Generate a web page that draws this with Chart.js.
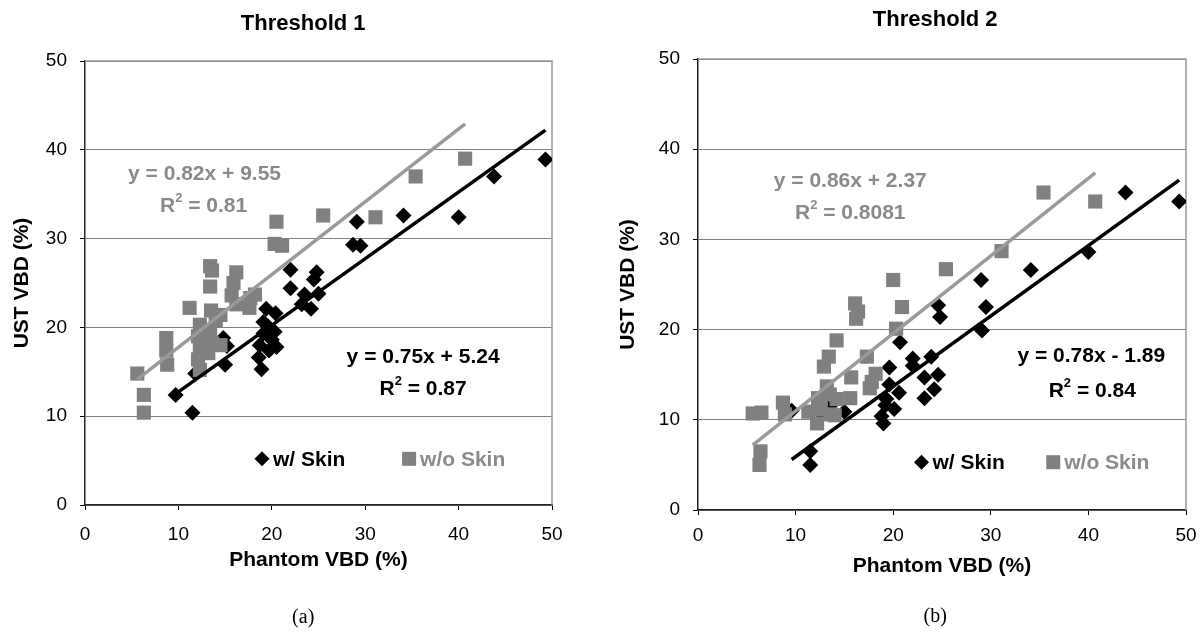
<!DOCTYPE html>
<html>
<head>
<meta charset="utf-8">
<script src="https://cdn.jsdelivr.net/npm/chart.js@4.4.1/dist/chart.umd.min.js"></script>
<style>
  html, body { margin: 0; padding: 0; background: #fff; overflow: hidden; }
  #wrap { position: relative; width: 1202px; height: 642px; overflow: hidden; }
  #boxA { position: absolute; left: 0; top: 0; }
  #boxB { position: absolute; left: 601px; top: 0; }
</style>
</head>
<body>
<div id="wrap">
  <div id="boxA"><canvas id="chartA" width="601" height="642"></canvas></div>
  <div id="boxB"><canvas id="chartB" width="658" height="642"></canvas></div>
</div>
<script>
// ---- data: [Phantom VBD, UST VBD] ----
const skinA = [
  [9.7, 12.4], [11.5, 10.4], [11.8, 14.8], [15.0, 15.8], [14.8, 18.8], [15.2, 17.9],
  [18.9, 15.3], [18.6, 16.6], [18.7, 18.0], [19.1, 19.3], [19.6, 20.1], [20.5, 17.8],
  [20.0, 18.6], [19.4, 22.1], [20.4, 21.6], [19.1, 20.6], [19.7, 17.4], [20.3, 19.5],
  [22.0, 26.5], [22.0, 24.4], [23.5, 23.7], [24.2, 22.1], [23.2, 22.6], [24.8, 26.2],
  [24.5, 25.4], [25.0, 23.8], [28.7, 29.3], [29.5, 29.2], [29.1, 31.9], [34.1, 32.6],
  [40.0, 32.4], [43.8, 37.0], [49.3, 38.9]
];
const noSkinA = [
  [5.6, 14.8], [6.3, 12.4], [6.3, 10.4], [8.7, 18.8], [8.7, 17.4], [8.8, 15.8],
  [11.2, 22.2], [12.3, 20.3], [12.1, 19.0], [12.3, 17.6], [12.1, 16.4], [12.3, 15.2],
  [13.2, 17.1], [13.4, 19.7], [13.6, 18.2], [14.0, 20.8], [14.5, 18.0], [13.4, 26.9],
  [13.6, 26.4], [13.4, 24.6], [13.5, 21.9], [14.5, 21.4], [16.2, 26.2], [15.9, 25.0],
  [15.7, 23.6], [16.2, 22.6], [17.7, 23.3], [17.6, 22.2], [18.2, 23.7], [20.3, 29.4],
  [21.1, 29.2], [20.5, 31.9], [25.5, 32.6], [31.1, 32.4], [35.4, 37.0], [40.7, 39.0]
];
const skinB = [
  [9.6, 11.0], [11.5, 5.0], [11.5, 6.5], [15.0, 10.9], [19.0, 9.6], [18.8, 10.4],
  [19.2, 11.6], [20.1, 11.2], [19.3, 12.3], [20.6, 13.0], [19.6, 13.9], [19.6, 15.8],
  [22.0, 16.8], [22.0, 16.0], [23.9, 17.0], [23.2, 12.4], [23.2, 14.7], [24.6, 15.0],
  [24.2, 13.4], [20.7, 18.6], [24.8, 21.4], [24.6, 22.7], [29.0, 25.5], [29.5, 22.5],
  [29.1, 19.9], [34.1, 26.6], [40.0, 28.6], [43.8, 35.2], [49.3, 34.2], [12.5, 10.8],
  [13.5, 11.5]
];
const noSkinB = [
  [5.6, 10.7], [6.5, 10.8], [6.4, 6.5], [6.3, 5.0], [8.7, 11.9], [8.9, 10.6],
  [11.3, 10.9], [12.3, 12.4], [12.2, 9.6], [12.6, 11.2], [13.2, 13.7], [13.5, 12.8],
  [13.6, 10.6], [14.2, 12.3], [14.0, 10.5], [12.9, 15.9], [13.4, 17.0], [14.2, 18.8],
  [15.6, 12.4], [15.7, 14.7], [16.1, 22.9], [16.4, 22.0], [16.2, 21.2], [17.3, 17.0],
  [17.6, 13.5], [17.8, 14.2], [18.2, 15.1], [20.0, 25.5], [20.9, 22.5], [20.3, 20.1],
  [25.4, 26.7], [31.1, 28.7], [35.4, 35.2], [40.7, 34.2]
];

// linear trendlines shown on the figure: [slope, intercept, R²]
const fitSkinA = [0.75, 5.24, '0.87'];
const fitNoSkinA = [0.82, 9.55, '0.81'];
const fitSkinB = [0.78, -1.89, '0.84'];
const fitNoSkinB = [0.86, 2.37, '0.8081'];

const seriesNames = ['w/ Skin', 'w/o Skin'];
const axisTicks = [0, 10, 20, 30, 40, 50];
const titles = ['Threshold 1', 'Threshold 2'];
const captions = ['(a)', '(b)'];

const FONT = "'Liberation Sans', Arial, sans-serif";
const BLACK = '#000000';
const GRAY = '#808080';
const GRAY_LINE = '#9a9a9a';
const GRAY_TEXT = '#8a8a8a';
const BIG = 21;

function pts(arr) { return arr.map(p => ({ x: p[0], y: p[1] })); }

function trend(arr, fit) {
  const xs = arr.map(p => p[0]);
  const lo = Math.min(...xs), hi = Math.max(...xs);
  return [{ x: lo, y: fit[0] * lo + fit[1] }, { x: hi, y: fit[0] * hi + fit[1] }];
}

function eqText(fit) {
  const sign = fit[1] < 0 ? ' - ' : ' + ';
  return 'y = ' + fit[0].toFixed(2) + 'x' + sign + Math.abs(fit[1]).toFixed(2);
}

// equations and R² drawn at data positions
const textMarks = {
  id: 'textMarks',
  afterDatasetsDraw(chart, args, opts) {
    const ctx = chart.ctx, xs = chart.scales.x, ys = chart.scales.y;
    ctx.save();
    ctx.textBaseline = 'middle';
    (opts.items || []).forEach(t => {
      const px = xs.getPixelForValue(t.x), py = ys.getPixelForValue(t.y);
      ctx.fillStyle = t.color;
      const big = 'bold ' + BIG + 'px ' + FONT, small = 'bold 13px ' + FONT;
      if (t.r2) {
        const rest = ' = ' + t.r2;
        ctx.font = big; const wR = ctx.measureText('R').width, wRest = ctx.measureText(rest).width;
        ctx.font = small; const w2 = ctx.measureText('2').width;
        const x0 = px - (wR + w2 + wRest) / 2;
        ctx.textAlign = 'left';
        ctx.font = big; ctx.fillText('R', x0, py);
        ctx.font = small; ctx.fillText('2', x0 + wR, py - 8);
        ctx.font = big; ctx.fillText(rest, x0 + wR + w2, py);
      } else {
        ctx.font = big;
        ctx.textAlign = 'center';
        ctx.fillText(t.text, px, py);
      }
    });
    ctx.restore();
  }
};

// legend placed inside the plot area
const plotLegend = {
  id: 'plotLegend',
  afterDatasetsDraw(chart, args, opts) {
    const ctx = chart.ctx, xs = chart.scales.x, ys = chart.scales.y;
    ctx.save();
    ctx.font = 'bold ' + BIG + 'px ' + FONT;
    ctx.textBaseline = 'middle';
    ctx.textAlign = 'left';
    (opts.items || []).forEach(it => {
      const ds = chart.data.datasets[it.ds];
      const px = xs.getPixelForValue(it.x), py = ys.getPixelForValue(it.y);
      ctx.fillStyle = ds.backgroundColor;
      ctx.beginPath();
      if (ds.pointStyle === 'rectRot') {
        const r = 7.5;
        ctx.moveTo(px - r, py); ctx.lineTo(px, py - r); ctx.lineTo(px + r, py); ctx.lineTo(px, py + r);
        ctx.closePath();
      } else {
        ctx.rect(px - 7, py - 7, 14, 14);
      }
      ctx.fill();
      ctx.fillStyle = it.color;
      ctx.fillText(ds.label, px + 11, py + 1);
    });
    ctx.restore();
  }
};

// gray frame on the top and right of the plot area
const plotFrame = {
  id: 'plotFrame',
  beforeDatasetsDraw(chart) {
    const { ctx, chartArea: a } = chart;
    ctx.save();
    ctx.strokeStyle = '#999999';
    ctx.lineWidth = 1.5;
    ctx.beginPath();
    ctx.moveTo(a.left, a.top); ctx.lineTo(a.right, a.top); ctx.lineTo(a.right, a.bottom);
    ctx.stroke();
    ctx.restore();
  }
};

function makeChart(id, skin, noSkin, fitSkin, fitNoSkin, idx, lay) {
  return new Chart(document.getElementById(id), {
    type: 'scatter',
    data: {
      datasets: [
        { type: 'line', label: 'trend skin', data: trend(skin, fitSkin), borderColor: BLACK,
          borderWidth: 3.5, pointRadius: 0, fill: false, order: 0, xAxisID: 'x', yAxisID: 'y' },
        { type: 'line', label: 'trend noskin', data: trend(noSkin, fitNoSkin), borderColor: GRAY_LINE,
          borderWidth: 3.5, pointRadius: 0, fill: false, order: 0, xAxisID: 'x', yAxisID: 'y' },
        { label: seriesNames[1], data: pts(noSkin), pointStyle: 'rect', pointRadius: 10,
          backgroundColor: GRAY, borderWidth: 0, order: 1, xAxisID: 'x', yAxisID: 'y' },
        { label: seriesNames[0], data: pts(skin), pointStyle: 'rectRot', pointRadius: 8,
          backgroundColor: BLACK, borderWidth: 0, order: 2, xAxisID: 'x', yAxisID: 'y' }
      ]
    },
    options: {
      responsive: false,
      animation: false,
      events: [],
      layout: { padding: { left: lay.padLeft, right: 0, top: 0, bottom: 0 } },
      scales: {
        x: {
          type: 'linear', min: 0, max: 50,
          afterBuildTicks: s => { s.ticks = axisTicks.map(v => ({ value: v })); },
          afterFit: s => { s.height = lay.xAxisH; },
          grid: { drawOnChartArea: false, drawTicks: true, tickLength: 5, tickColor: '#000' },
          border: { color: '#222', width: 1.5 },
          ticks: { color: '#000', font: { family: FONT, size: 19 }, padding: lay.xTickPad, maxRotation: 0 },
          title: { display: true, text: 'Phantom VBD (%)', color: '#000',
                   font: { family: FONT, size: BIG, weight: 'bold' }, padding: { top: 4, bottom: 4 } }
        },
        y: {
          type: 'linear', min: 0, max: 50,
          afterBuildTicks: s => { s.ticks = axisTicks.map(v => ({ value: v })); },
          afterFit: s => { s.width = lay.yAxisW; },
          grid: { color: '#808080', lineWidth: 1, drawTicks: true, tickLength: 5, tickColor: '#000' },
          border: { color: '#222', width: 1.5 },
          ticks: { color: '#000', font: { family: FONT, size: 19 }, padding: 13 },
          title: { display: true, text: 'UST VBD (%)', color: '#000',
                   font: { family: FONT, size: BIG, weight: 'bold' }, padding: { top: 4, bottom: 4 } }
        },
        yRight: {
          type: 'linear', position: 'right', display: true,
          grid: { display: false }, border: { display: false }, ticks: { display: false },
          afterFit: s => { s.width = lay.rightW; }
        }
      },
      plugins: {
        legend: { display: false },
        tooltip: { enabled: false },
        title: { display: true, text: titles[idx], color: '#000',
                 font: { family: FONT, size: 22, weight: 'bold' }, padding: lay.titlePad },
        subtitle: { display: true, text: captions[idx], position: 'bottom', color: '#000',
                    font: { family: "'Liberation Serif', 'Times New Roman', serif", size: 20, weight: 'normal' },
                    padding: lay.subPad },
        textMarks: { items: [
          { text: eqText(fitNoSkin), x: lay.eqNo[0], y: lay.eqNo[1], color: GRAY_TEXT },
          { r2: fitNoSkin[2], x: lay.r2No[0], y: lay.r2No[1], color: GRAY_TEXT },
          { text: eqText(fitSkin), x: lay.eqSk[0], y: lay.eqSk[1], color: BLACK },
          { r2: fitSkin[2], x: lay.r2Sk[0], y: lay.r2Sk[1], color: BLACK }
        ] },
        plotLegend: { items: [
          { ds: 3, x: lay.legSk[0], y: lay.legSk[1], color: BLACK },
          { ds: 2, x: lay.legNo[0], y: lay.legNo[1], color: GRAY_TEXT }
        ] }
      }
    },
    plugins: [plotFrame, textMarks, plotLegend]
  });
}

makeChart('chartA', skinA, noSkinA, fitSkinA, fitNoSkinA, 0, {
  padLeft: 5.4, yAxisW: 79.6, rightW: 49, xAxisH: 71.6, xTickPad: 13.6,
  titlePad: { top: 10.8, bottom: 23.8 }, subPad: { top: 29.4, bottom: 12 },
  eqNo: [12.8, 37.3], r2No: [12.7, 33.6], eqSk: [36.2, 16.7], r2Sk: [36.2, 13.0],
  legSk: [18.95, 5.2], legNo: [34.7, 5.2]
});
makeChart('chartB', skinB, noSkinB, fitSkinB, fitNoSkinB, 1, {
  padLeft: 10.4, yAxisW: 86.6, rightW: 73, xAxisH: 72.6, xTickPad: 9.6,
  titlePad: { top: 6.8, bottom: 25.8 }, subPad: { top: 22.4, bottom: 13 },
  eqNo: [15.6, 36.5], r2No: [15.6, 32.9], eqSk: [40.3, 17.0], r2Sk: [40.4, 13.2],
  legSk: [22.9, 5.3], legNo: [36.4, 5.3]
});
</script>
</body>
</html>
